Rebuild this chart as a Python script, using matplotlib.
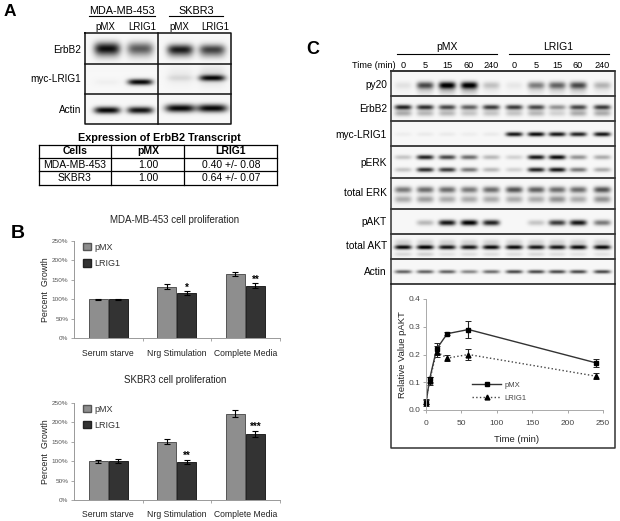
import numpy as np
import matplotlib
matplotlib.use('Agg')
import matplotlib.pyplot as plt
from matplotlib.lines import Line2D
from matplotlib.patches import Patch

plt.rcParams['font.family'] = ['Liberation Sans', 'DejaVu Sans']

W, H = 620, 521

# panel A blot: band strength per lane
a_cells = ['MDA-MB-453', 'SKBR3']
a_lanes = ['pMX', 'LRIG1', 'pMX', 'LRIG1']
a_rows = ['ErbB2', 'myc-LRIG1', 'Actin']
a_erbb2 = [0.9, 0.6, 0.85, 0.7]
a_myc = [0.03, 0.95, 0.08, 0.85]
a_actin = [0.95, 0.9, 0.95, 0.95]

# panel A table
table_title = 'Expression of ErbB2 Transcript'
table_head = ['Cells', 'pMX', 'LRIG1']
table_rows = [['MDA-MB-453', '1.00', '0.40 +/- 0.08'],
              ['SKBR3', '1.00', '0.64 +/- 0.07']]

# panel B
groups = ['Serum starve', 'Nrg Stimulation', 'Complete Media']
b1_pmx = [100, 132, 166]
b1_pmx_err = [1, 6, 5]
b1_lrig = [100, 116, 135]
b1_lrig_err = [1, 4, 6]
b1_stars = ['', '*', '**']
b2_pmx = [99, 150, 222]
b2_pmx_err = [5, 6, 8]
b2_lrig = [100, 98, 170]
b2_lrig_err = [5, 5, 7]
b2_stars = ['', '**', '***']
pct_ticks = [0, 50, 100, 150, 200, 250]

# panel C blots
c_times = ['0', '5', '15', '60', '240', '0', '5', '15', '60', '240']
c_labels = ['py20', 'ErbB2', 'myc-LRIG1', 'pERK', 'total ERK', 'pAKT', 'total AKT', 'Actin']
c_label_y = [85, 109, 135, 163, 193, 222, 246, 272]
py20 = [.08, .65, .95, .95, .2, .06, .45, .55, .65, .25]
c_erbb2 = [.85, .8, .7, .6, .75, .75, .7, .4, .7, .75]
c_erbb2_low = [.3, .25, .25, .2, .2, .2, .25, .15, .3, .3]
c_myc = [.04, .05, .05, .04, .05, .9, .95, .9, .85, .9]
perk_up = [.2, .85, .7, .55, .25, .15, .9, .95, .4, .3]
perk_low = [.2, .8, .75, .5, .25, .15, .85, .9, .5, .3]
erk_up = [.5, .55, .55, .5, .55, .65, .6, .55, .55, .65]
erk_low = [.3, .35, .3, .3, .3, .3, .3, .4, .3, .4]
pakt = [0, .25, .9, 1, .85, 0, .2, .75, .9, .5]
akt = [.95, 1, .9, .9, .95, .95, .9, .9, .95, .95]
akt_low = [.12, .15, .08, .1, .1, .1, .12, .1, .08, .08]
c_actin = [.6, .6, .6, .45, .55, .7, .7, .7, .7, .7]

# panel C time course
t = [0, 5, 15, 30, 60, 240]
pakt_pmx = [.025, .11, .22, .275, .29, .17]
pakt_pmx_err = [.01, .01, .02, .005, .03, .015]
pakt_lrig = [.03, .105, .21, .187, .2, .122]
pakt_lrig_err = [.01, .015, .02, .01, .02, .01]


def px_axes(x0, y0, x1, y1):
    return fig.add_axes([x0 / W, 1 - y1 / H, (x1 - x0) / W, (y1 - y0) / H])


def blot(ax, x0, y0, x1, y1, lanes, halfw, bands):
    # bands: (y centre in px, half thickness in px, strengths per lane)
    xs = np.arange(x0, x1, 0.5)
    ys = np.arange(y0, y1, 0.5)
    gx, gy = np.meshgrid(xs, ys)
    dark = np.full(gx.shape, 0.03)
    for cy, hh, vals in bands:
        for cx, v in zip(lanes, vals):
            dark += v * np.exp(-((gx - cx) / halfw) ** 4) * np.exp(-((gy - cy) / hh) ** 2)
    ax.imshow(np.clip(dark, 0, 1), cmap='gray_r', vmin=0, vmax=1, aspect='auto',
              extent=(x0, x1, y1, y0), interpolation='bilinear', zorder=1)


def bar_chart(y0, y1, pmx, pmx_err, lrig, lrig_err, stars, title, title_y, cat_y):
    ax = px_axes(74, y0, 279.5, y1)
    ax.patch.set_alpha(0)
    x = np.arange(3)
    bw = 0.28
    ek = dict(ecolor='black', elinewidth=0.8, capsize=2, capthick=0.8)
    ax.bar(x - 0.148, pmx, bw, yerr=pmx_err, color='#8e8e8e', edgecolor='#555555', linewidth=0.7,
           error_kw=ek, label='pMX')
    ax.bar(x + 0.148, lrig, bw, yerr=lrig_err, color='#333333', edgecolor='#222222', linewidth=0.7,
           error_kw=ek, label='LRIG1')
    for i in range(3):
        if stars[i]:
            ax.text(x[i] + 0.148, lrig[i] + lrig_err[i] - 3, stars[i], ha='center', va='bottom',
                    fontsize=7, fontweight='bold', color='black')
    ax.set_xlim(-0.5, 2.5)
    ax.set_ylim(0, 250)
    ax.set_yticks(pct_ticks)
    ax.set_yticklabels(['%d%%' % p for p in pct_ticks], fontsize=4.6, color='#555555')
    ax.set_xticks([0.5, 1.5, 2.5])
    ax.set_xticklabels([])
    ax.tick_params(axis='both', color='#999999', length=2, width=0.6, pad=2)
    for i in range(3):
        ax.text(x[i], cat_y, groups[i], ha='center', va='center', fontsize=6.2, color='#222222')
    ax.set_ylabel('Percent  Growth', fontsize=6.4, color='#222222', labelpad=1.5)
    for s in ['top', 'right']:
        ax.spines[s].set_visible(False)
    for s in ['left', 'bottom']:
        ax.spines[s].set_color('#999999')
        ax.spines[s].set_linewidth(0.7)
    handles = [Patch(facecolor='#8e8e8e', edgecolor='#555555', label='pMX'),
               Patch(facecolor='#333333', edgecolor='#222222', label='LRIG1')]
    ax.legend(handles=handles, loc='upper left', bbox_to_anchor=(0.045, 0.98), frameon=False,
              fontsize=6.5, handlelength=0.85, handleheight=0.85, handletextpad=0.35, labelspacing=0.8,
              labelcolor='#333333', borderpad=0, borderaxespad=0)
    over.text(175, title_y, title, ha='center', va='center', fontsize=7, color='#222222')


fig = plt.figure(figsize=(W / 100, H / 100), dpi=100)
over = fig.add_axes([0, 0, 1, 1])
over.axis('off')

# ---- A
over.text(10, 12, 'A', fontsize=12.5, fontweight='bold', ha='center', va='center')
over.text(122.5, 11, a_cells[0], fontsize=7.8, ha='center', va='center')
over.text(196, 11, a_cells[1], fontsize=7.8, ha='center', va='center')
over.plot([89, 155], [16, 16], color='black', lw=0.8, zorder=3)
over.plot([169, 223], [16, 16], color='black', lw=0.8, zorder=3)
a_x = [105, 142, 179, 215]
for xx, name in zip(a_x, a_lanes):
    over.text(xx, 27, name, fontsize=7, ha='center', va='center')

blot(over, 85, 33, 158, 63.5, [107, 140], 13, [(49, 6, a_erbb2[:2]), (56, 5, [.12, .08])])
blot(over, 158, 33, 231, 63.5, [180, 212], 13, [(50, 5, a_erbb2[2:]), (56, 4, [.15, .15])])
blot(over, 85, 63.5, 158, 94, [107, 140], 12.5, [(82, 3, a_myc[:2])])
blot(over, 158, 63.5, 231, 94, [180, 212], 13, [(78, 3, a_myc[2:]), (76, 9, [.05, .12])])
blot(over, 85, 94, 158, 124, [107, 140], 13, [(110, 3.5, a_actin[:2])])
blot(over, 158, 94, 231, 124, [180, 212], 15, [(108, 4, a_actin[2:])])
for xs, ys in [([85, 231, 231, 85, 85], [33, 33, 124, 124, 33]), ([158, 158], [33, 124]),
               ([85, 231], [63.5, 63.5]), ([85, 231], [94, 94])]:
    over.plot(xs, ys, color='#111111', lw=1.1, zorder=3)
for name, yy in zip(a_rows, [50, 79, 110]):
    over.text(81, yy, name, fontsize=7.2, ha='right', va='center')

over.text(159, 138, table_title, fontsize=7.8, fontweight='bold', ha='center', va='center')
tx = [39, 111, 184, 277]
ty = [144.5, 157.5, 171, 185]
for xx in tx:
    over.plot([xx, xx], [ty[0], ty[-1]], color='black', lw=0.9, zorder=3)
for yy in ty:
    over.plot([tx[0], tx[-1]], [yy, yy], color='black', lw=0.9, zorder=3)
cx = [75, 148, 231]
for j in range(3):
    over.text(cx[j], 151, table_head[j], fontsize=7.5, fontweight='bold', ha='center', va='center')
    over.text(cx[j], 165, table_rows[0][j], fontsize=7.5, ha='center', va='center')
    over.text(cx[j], 178, table_rows[1][j], fontsize=7.5, ha='center', va='center')

# ---- B
over.text(18, 233, 'B', fontsize=14, fontweight='bold', ha='center', va='center')
bar_chart(241, 338, b1_pmx, b1_pmx_err, b1_lrig, b1_lrig_err, b1_stars,
          'MDA-MB-453 cell proliferation', 220, -39)
bar_chart(402.7, 500, b2_pmx, b2_pmx_err, b2_lrig, b2_lrig_err, b2_stars,
          'SKBR3 cell proliferation', 380, -36)

# ---- C
over.text(313, 50, 'C', fontsize=13, fontweight='bold', ha='center', va='center')
over.text(447, 47, 'pMX', fontsize=7.5, ha='center', va='center')
over.text(558, 47, 'LRIG1', fontsize=7.5, ha='center', va='center')
over.plot([397, 497], [54, 54], color='black', lw=0.8, zorder=3)
over.plot([509, 609], [54, 54], color='black', lw=0.8, zorder=3)
over.text(395.5, 65, 'Time (min)', fontsize=6.6, ha='right', va='center')
c_x = [403, 425, 447, 469, 491, 514, 536, 557, 578, 602]
for xx, name in zip(c_x, c_times):
    over.text(xx, 65.5, name, fontsize=6.6, ha='center', va='center')

c_edges = [71, 96, 121, 146, 178, 209, 234, 259, 284]
c_bands = [[(85, 3.5, py20), (90, 5, [v * .2 for v in py20])],
           [(107, 2.5, c_erbb2), (113, 3, c_erbb2_low)],
           [(134, 2.2, c_myc)],
           [(157, 2.3, perk_up), (169.5, 2.3, perk_low)],
           [(189.5, 3.2, erk_up), (199, 3.5, erk_low)],
           [(222.5, 2.8, pakt)],
           [(247, 2.2, akt), (254, 2.2, akt_low), (242, 3, [v * .15 for v in akt])],
           [(271.5, 1.8, c_actin)]]
for i in range(8):
    blot(over, 391, c_edges[i], 615, c_edges[i + 1], c_x, 8.5, c_bands[i])
    over.plot([391, 615], [c_edges[i], c_edges[i]], color='#111111', lw=1.1, zorder=3)
    over.text(387, c_label_y[i], c_labels[i], fontsize=7.3, ha='right', va='center')
over.plot([391, 615, 615, 391, 391], [71, 71, 448, 448, 71], color='#333333', lw=1.1, zorder=3)
over.plot([391, 615], [284, 284], color='#111111', lw=1.1, zorder=3)

over.set_xlim(0, W)
over.set_ylim(H, 0)

ax3 = px_axes(426, 299, 603, 410)
ax3.patch.set_alpha(0)
ax3.errorbar(t, pakt_pmx, yerr=pakt_pmx_err, color='#333333', lw=1, marker='s', ms=3.2, mfc='black',
             mec='black', ecolor='#222222', elinewidth=0.8, capsize=2, capthick=0.7, clip_on=False)
ax3.errorbar(t, pakt_lrig, yerr=pakt_lrig_err, color='#444444', lw=1, ls=':', marker='^', ms=3.5,
             mfc='black', mec='black', ecolor='#222222', elinewidth=0.8, capsize=2, capthick=0.7, clip_on=False)
ax3.set_xlim(0, 250)
ax3.set_ylim(0, 0.4)
ax3.set_xticks([0, 50, 100, 150, 200, 250])
ax3.set_yticks([0, .1, .2, .3, .4])
ax3.set_yticklabels(['0.0', '0.1', '0.2', '0.3', '0.4'])
ax3.tick_params(axis='x', pad=5)
ax3.tick_params(axis='both', labelsize=6, labelcolor='#444444', color='#999999', length=2, width=0.6)
ax3.tick_params(axis='y', pad=2)
ax3.set_xlabel('Time (min)', fontsize=6.8, color='#222222')
ax3.xaxis.set_label_coords(0.51, -0.225)
ax3.set_ylabel('Relative Value pAKT', fontsize=6.8, color='#222222', labelpad=1)
for s in ['top', 'right']:
    ax3.spines[s].set_visible(False)
for s in ['left', 'bottom']:
    ax3.spines[s].set_color('#aaaaaa')
    ax3.spines[s].set_linewidth(0.7)
leg_handles = [Line2D([], [], color='#333333', lw=1, marker='s', ms=3.2, mfc='black', mec='black', label='pMX'),
               Line2D([], [], color='#444444', lw=1, ls=':', marker='^', ms=3.5, mfc='black', mec='black', label='LRIG1')]
ax3.legend(handles=leg_handles, loc='center left', bbox_to_anchor=(0.26, 0.165), frameon=False, fontsize=5.5,
           handlelength=3.8, handletextpad=0.4, labelspacing=0.8, labelcolor='#444444', borderpad=0, borderaxespad=0)

fig.savefig('out.png', dpi=100)
